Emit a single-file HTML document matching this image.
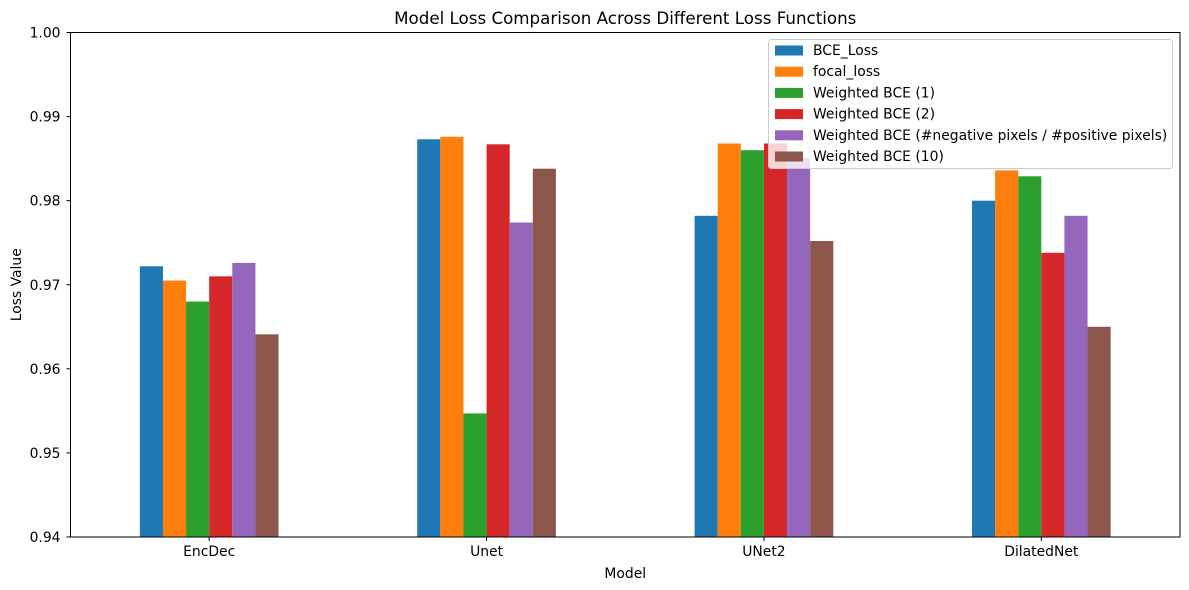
<!DOCTYPE html>
<html><head><meta charset="utf-8"><style>
body{margin:0;background:#fff;}
svg{display:block;font-family:"DejaVu Sans","Liberation Sans",sans-serif;}
</style></head><body>
<svg id="chart" width="1189" height="590" xmlns="http://www.w3.org/2000/svg"></svg>
<script>
const categories = ["EncDec","Unet","UNet2","DilatedNet"];
const seriesNames = ["BCE_Loss","focal_loss","Weighted BCE (1)","Weighted BCE (2)","Weighted BCE (#negative pixels / #positive pixels)","Weighted BCE (10)"];
const bceLoss = [0.9722,0.9873,0.9782,0.9800];
const focalLoss = [0.9705,0.9876,0.9868,0.9836];
const weighted1 = [0.9680,0.9547,0.9860,0.9829];
const weighted2 = [0.9710,0.9867,0.9868,0.9738];
const weightedRatio = [0.9726,0.9774,0.9851,0.9782];
const weighted10 = [0.9641,0.9838,0.9752,0.9650];
const yTicks = [0.94,0.95,0.96,0.97,0.98,0.99,1.00];
const colors = ["#1f77b4","#ff7f0e","#2ca02c","#d62728","#9467bd","#8c564b"];
const allSeries = [bceLoss,focalLoss,weighted1,weighted2,weightedRatio,weighted10];

const L=70.5,R=1180,T=32.5,B=537, yMin=0.94,yMax=1.0;
const FS=13.9;
const ys=v=>B-(v-yMin)/(yMax-yMin)*(B-T);
const xs=v=>L+(v+0.5)/categories.length*(R-L);
const svg=document.getElementById('chart');
const NS="http://www.w3.org/2000/svg";
function mk(tag,attrs,text){const e=document.createElementNS(NS,tag);for(const k in attrs)e.setAttribute(k,attrs[k]);if(text!==undefined)e.textContent=text;svg.appendChild(e);return e;}

const groupW=0.5, bw=groupW/allSeries.length;
allSeries.forEach((s,si)=>{
  s.forEach((v,ci)=>{
    const x0=xs(ci-groupW/2+si*bw), x1=xs(ci-groupW/2+(si+1)*bw);
    const r=mk('rect',{x:x0,y:ys(v),width:x1-x0,height:B-ys(v),fill:colors[si]});
    
    
  });
});
const fr=mk('rect',{x:L,y:T,width:R-L,height:B-T,fill:'none',stroke:'#000','stroke-width':1});


yTicks.forEach(t=>{
  const y=ys(t);
  mk('line',{x1:L-4,x2:L,y1:y,y2:y,stroke:'#000'});
  const tx=mk('text',{x:L-10,y:y+5,'text-anchor':'end','font-size':FS,fill:'#000'},t.toFixed(2));
  
  
});
categories.forEach((c,i)=>{
  const x=xs(i);
  mk('line',{x1:x,x2:x,y1:B,y2:B+4,stroke:'#000'});
  const tx=mk('text',{x:x,y:B+19,'text-anchor':'middle','font-size':FS,fill:'#000'},c);
  
  
});
const xt=mk('text',{x:(L+R)/2,y:578,'text-anchor':'middle','font-size':FS},'Model');


const yt=mk('text',{x:0,y:0,'text-anchor':'middle','font-size':FS,transform:'translate(21,'+((T+B)/2)+') rotate(-90)'},'Loss Value');


const tt=mk('text',{x:(L+R)/2,y:24,'text-anchor':'middle','font-size':16.7},'Model Loss Comparison Across Different Loss Functions');


const lg=mk('rect',{x:768.5,y:39.5,width:404,height:129,rx:3,fill:'#fff','fill-opacity':0.8,stroke:'#ccc'});


seriesNames.forEach((n,i)=>{
  const y=50+i*21.2;
  const p=mk('rect',{x:775,y:y-4.5,width:28,height:10,fill:colors[i]});
  
  
  const t=mk('text',{x:813,y:y+5,'font-size':FS},n);
  
  
});
</script>
</body></html>
